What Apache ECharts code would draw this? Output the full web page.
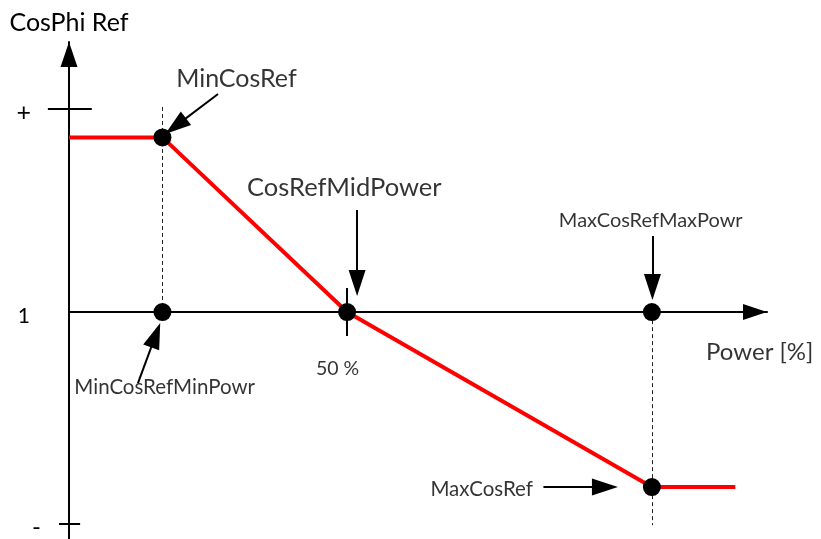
<!DOCTYPE html>
<html>
<head>
<meta charset="utf-8">
<script src="https://cdn.jsdelivr.net/npm/echarts@6/dist/echarts.min.js"></script>
<style>
  html, body { margin: 0; padding: 0; background: #fff; }
  #chart { width: 821px; height: 539px; }
</style>
</head>
<body>
<div id="chart"></div>
<script>
// axis ranges: power in %, cosphi as offset from 1
const powerRange = [0, 125.5]
const cosRange = [-1.118, 1.33]
const cosTickValues = [1, 0, -1.044]
const cosTickLabels = ['+', '1', '-']

// red reference curve
const curvePower = [0, 16.8, 50, 104.8, 119.8]
const curveCos = [0.86, 0.86, 0, -0.862, -0.862]

// black set points
const pointPower = [16.8, 16.8, 50, 104.8, 104.8]
const pointCos = [0.86, 0, 0, 0, -0.862]

// dashed guides
const dashPower = [16.8, 104.8]
const dashFrom = [1.01, -0.04]
const dashTo = [0, -1.05]

// small ticks: "+", "-" and 50 %
const tickPower = [[-3.8, 4.1], [-1.8, 2.0], [50, 50]]
const tickCos = [[1, 1], [-1.044, -1.044], [0.118, -0.118]]

// annotation arrows, start -> tip
const arrowFromPower = [26.8, 51.8, 104.9, 12.4, 85.3]
const arrowFromCos = [1.074, 0.502, 0.374, -0.35, -0.862]
const arrowToPower = [17.3, 51.8, 104.9, 16.4, 98.7]
const arrowToCos = [0.877, 0.079, 0.059, -0.054, -0.862]

// annotation texts
const noteTexts = ['MinCosRef', 'CosRefMidPower', 'MaxCosRefMaxPowr', 'Power [%]', '50 %', 'MinCosRefMinPowr', 'MaxCosRef']
const notePower = [30.1, 49.5, 104.6, 124.2, 48.3, 17.2, 74.2]
const noteCos = [1.15, 0.611, 0.453, -0.197, -0.281, -0.369, -0.872]
const noteFontSizes = [25, 25.5, 20, 24, 19.5, 20.5, 20.5]

const font = 'Lato'
const headLen = 26
const chart = echarts.init(document.getElementById('chart'))

const arrowData = (shorten) => arrowFromPower.map((p, i) => {
  const from = [p, arrowFromCos[i]]
  const to = [arrowToPower[i], arrowToCos[i]]
  if (!shorten) return { coords: [from, to] }
  // pull the line end back so the triangle tip lands on the target
  const a = chart.convertToPixel({ gridIndex: 0 }, from)
  const b = chart.convertToPixel({ gridIndex: 0 }, to)
  const len = Math.hypot(b[0] - a[0], b[1] - a[1])
  const k = (headLen / 2) / len
  const c = [b[0] - (b[0] - a[0]) * k, b[1] - (b[1] - a[1]) * k]
  return { coords: [from, chart.convertFromPixel({ gridIndex: 0 }, c)] }
})

const option = {
  animation: false,
  grid: { left: 69, right: 54, top: 42, bottom: 0 },
  xAxis: {
    type: 'value',
    min: powerRange[0],
    max: powerRange[1],
    axisLine: {
      onZero: true,
      symbol: ['none', 'triangle'],
      symbolSize: [16, 24],
      symbolOffset: [0, -12],
      lineStyle: { color: '#000', width: 2 }
    },
    axisTick: { show: false },
    axisLabel: { show: false },
    splitLine: { show: false }
  },
  yAxis: {
    type: 'value',
    min: cosRange[0],
    max: cosRange[1],
    name: 'CosPhi Ref',
    nameLocation: 'end',
    nameGap: 7,
    nameTextStyle: { fontFamily: font, fontSize: 25, color: '#000' },
    axisLine: {
      symbol: ['none', 'triangle'],
      symbolSize: [17, 25],
      symbolOffset: [0, -12.5],
      lineStyle: { color: '#000', width: 2 }
    },
    axisTick: { show: false },
    axisLabel: {
      customValues: cosTickValues,
      formatter: v => {
        const i = cosTickValues.indexOf(v)
        const t = i >= 0 ? cosTickLabels[i] : ''
        if (t === '-') return '{m|-}'
        return t === '+' ? '{s|+}' : '{p|' + t + '}'
      },
      margin: 28,
      rich: {
        p: { fontFamily: font, fontSize: 21, color: '#000', padding: [8, 11, 0, 0] },
        s: { fontFamily: font, fontSize: 25, color: '#000', padding: [8, 10, 0, 0] },
        m: { fontFamily: font, fontSize: 24, color: '#000', padding: [6, 0, 0, 0] }
      }
    },
    splitLine: { show: false }
  },
  series: [
    {
      type: 'lines',
      coordinateSystem: 'cartesian2d',
      polyline: false,
      clip: false,
      silent: true,
      lineStyle: { color: '#000', width: 2, opacity: 1 },
      data: tickPower.map((p, i) => ({ coords: [[p[0], tickCos[i][0]], [p[1], tickCos[i][1]]] }))
    },
    {
      type: 'lines',
      coordinateSystem: 'cartesian2d',
      clip: false,
      silent: true,
      lineStyle: { color: '#222', width: 1, type: [4, 3], opacity: 1 },
      data: dashPower.map((p, i) => ({ coords: [[p, dashFrom[i]], [p, dashTo[i]]] }))
    },
    {
      type: 'line',
      silent: true,
      symbol: 'none',
      lineStyle: { color: '#ff0000', width: 4 },
      data: curvePower.map((p, i) => [p, curveCos[i]]),
      z: 3
    },
    {
      type: 'scatter',
      silent: true,
      symbol: 'circle',
      symbolSize: 18,
      itemStyle: { color: '#000', opacity: 1 },
      data: pointPower.map((p, i) => [p, pointCos[i]]),
      z: 4
    },
    {
      id: 'arrows',
      type: 'lines',
      coordinateSystem: 'cartesian2d',
      clip: false,
      silent: true,
      symbol: ['none', 'triangle'],
      symbolSize: [0, [17, headLen]],
      lineStyle: { color: '#000', width: 2, opacity: 1 },
      data: arrowData(false),
      z: 5
    },
    {
      type: 'scatter',
      silent: true,
      clip: false,
      symbolSize: 0,
      label: {
        show: true,
        position: 'inside',
        color: '#000',
        fontFamily: font,
        formatter: p => noteTexts[p.dataIndex]
      },
      data: notePower.map((p, i) => ({
        value: [p, noteCos[i]],
        label: { fontSize: noteFontSizes[i] }
      })),
      z: 6
    }
  ]
}

chart.setOption(option)
chart.setOption({ series: [{ id: 'arrows', data: arrowData(true) }] })
</script>
</body>
</html>
